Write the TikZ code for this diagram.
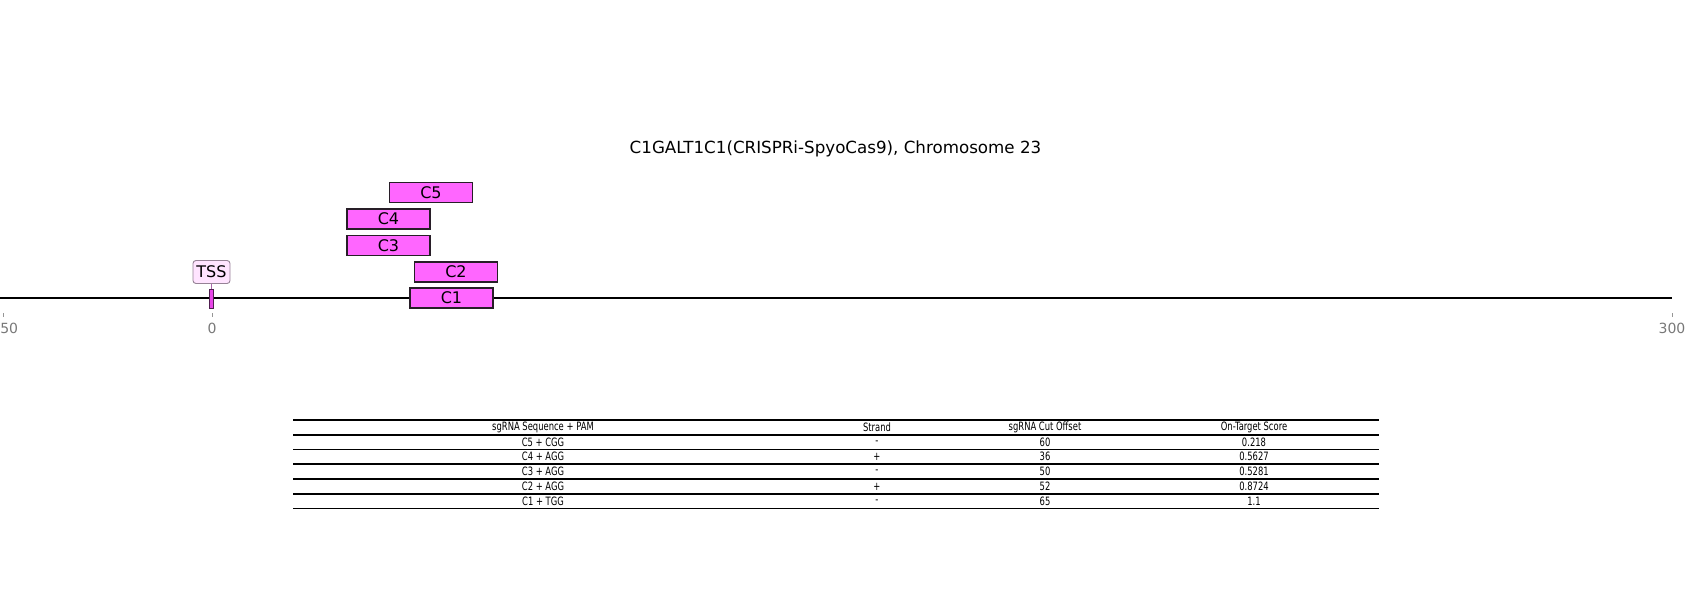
\documentclass[tikz,border=0pt]{standalone}
\usepackage{fontspec}
\setmainfont{DejaVu Sans}
\definecolor{guidefill}{RGB}{255,102,255}
\definecolor{guideedge}{RGB}{40,30,40}
\definecolor{tssfill}{RGB}{232,70,232}
\definecolor{tssedge}{RGB}{80,30,80}
\definecolor{tsslabfill}{RGB}{255,228,255}
\definecolor{tsslabedge}{RGB}{150,130,150}
\definecolor{tickgray}{RGB}{150,150,150}
\definecolor{ticklabel}{RGB}{120,120,120}
\begin{document}
\begin{tikzpicture}[x=1pt,y=-1pt,
  guide/.style={draw=guideedge, line width=1.2pt, fill=guidefill,
    minimum width=83pt, minimum height=20pt, inner sep=0pt,
    font=\fontsize{16}{16}\selectfont},
  tssmark/.style={draw=tssedge, line width=1pt, fill=tssfill,
    minimum width=4pt, minimum height=19pt, inner sep=0pt},
  tsslabel/.style={draw=tsslabedge, line width=0.9pt, fill=tsslabfill,
    rounded corners=3pt, minimum width=37pt, minimum height=23pt, inner sep=0pt,
    font=\fontsize{16}{16}\selectfont},
  tsslink/.style={draw=tsslabedge!80!magenta, line width=0.8pt},
  axisline/.style={line width=1.6pt, black},
  tickmark/.style={draw=tickgray, line width=0.8pt},
  ticktext/.style={text=ticklabel, font=\fontsize{14}{14}\selectfont, anchor=base, inner sep=0pt},
  titletext/.style={font=\fontsize{16.7}{16.7}\selectfont, inner sep=0pt},
  rule/.style={line width=1.4pt, black},
  cell/.style={inner sep=0pt, font=\fontsize{11.5}{11.5}\selectfont},
]
\useasboundingbox (0,0) rectangle (1700,600);

% title
\node[titletext] (title) at (835.5,148.5) {C1GALT1C1(CRISPRi-SpyoCas9), Chromosome 23};

% genomic axis
\coordinate (axL) at (0,298);
\coordinate (axR) at (1672,298);
\draw[axisline] (axL) -- (axR);

% ticks and their labels
\foreach \xx/\lab in {3.3/{−50}, 212/0, 1672/300}{
  \draw[tickmark] (\xx,313) -- (\xx,317);
  \node[ticktext] at (\xx,333) {\lab};
}

% guide boxes
\node[guide] (C1) at (451.5,298) {C1};
\node[guide] (C2) at (456,272) {C2};
\node[guide] (C3) at (388.5,245.5) {C3};
\node[guide] (C4) at (388.5,219) {C4};
\node[guide] (C5) at (431,192.5) {C5};

% transcription start site
\node[tssmark] (tss) at (211.5,298.5) {};
\node[tsslabel] (tsslab) at (211.5,272) {TSS};
\draw[tsslink] (tsslab.south) -- (tss.north);

% table of guides
\foreach \yy in {420,435,449.5,464,479,494,508.5}{
  \draw[rule] (293,\yy) -- (1379,\yy);
}
\foreach \r/\yy/\a/\b/\c/\d in {
  0/427.5/{sgRNA Sequence + PAM}/Strand/{sgRNA Cut Offset}/{On-Target Score},
  1/442.2/{C5 + CGG}/-/60/0.218,
  2/456.8/{C4 + AGG}/+/36/0.5627,
  3/471.5/{C3 + AGG}/-/50/0.5281,
  4/486.5/{C2 + AGG}/+/52/0.8724,
  5/501.2/{C1 + TGG}/-/65/1.1}{
  \node[cell] (t\r a) at (543,\yy) {\scalebox{0.73}[1]{\a}};
  \node[cell] (t\r b) at (877,\yy) {\scalebox{0.73}[1]{\b}};
  \node[cell] (t\r c) at (1045,\yy) {\scalebox{0.73}[1]{\c}};
  \node[cell] (t\r d) at (1254,\yy) {\scalebox{0.73}[1]{\d}};
}
\end{tikzpicture}
\end{document}
